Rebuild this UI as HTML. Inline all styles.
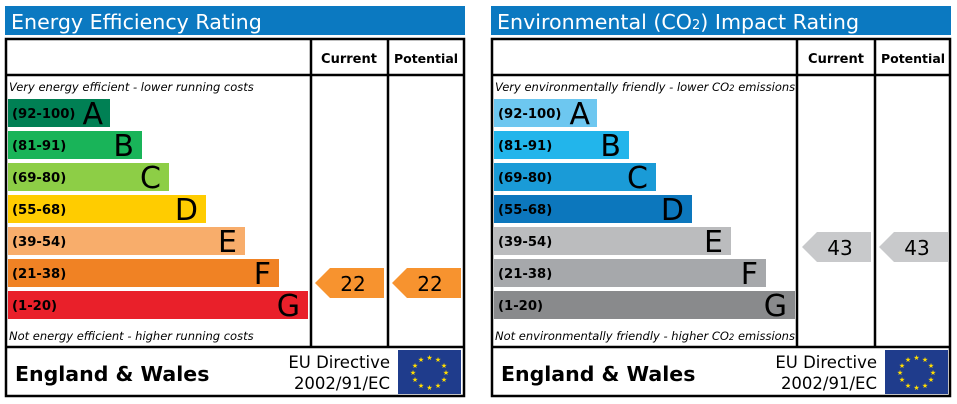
<!DOCTYPE html><html><head><style>body{margin:0;background:#fff}svg{display:block}text{font-family:"DejaVu Sans",Verdana,sans-serif}</style></head><body>
<svg width="957" height="404" xmlns="http://www.w3.org/2000/svg">
<g id="p1">
<rect x="5" y="6" width="460" height="29" fill="#0b79c1"/>
<text x="11" y="29" font-size="20.6" fill="#fff">Energy Efficiency Rating</text>
<rect x="6" y="39" width="458" height="357" fill="none" stroke="#000" stroke-width="2.5"/>
<line x1="6" y1="75" x2="464" y2="75" stroke="#000" stroke-width="2.5"/>
<line x1="6" y1="347" x2="464" y2="347" stroke="#000" stroke-width="2.5"/>
<line x1="311" y1="39" x2="311" y2="347" stroke="#000" stroke-width="2.5"/>
<line x1="388" y1="39" x2="388" y2="347" stroke="#000" stroke-width="2.5"/>
<text x="349" y="63" font-size="13" font-weight="bold" text-anchor="middle">Current</text>
<text x="426" y="63" font-size="12.5" font-weight="bold" text-anchor="middle">Potential</text>
<text x="9" y="91" font-size="11.5" font-style="italic">Very energy efficient - lower running costs</text>
<text x="9" y="340" font-size="11.5" font-style="italic">Not energy efficient - higher running costs</text>
<rect x="8" y="99" width="102" height="28" fill="#008054"/><text x="12" y="118" font-size="13.2" font-weight="bold">(92-100)</text><text x="103" y="124" font-size="30" text-anchor="end">A</text>
<rect x="8" y="131" width="134" height="28" fill="#19b459"/><text x="12" y="150" font-size="13.2" font-weight="bold">(81-91)</text><text x="134" y="156" font-size="30" text-anchor="end">B</text>
<rect x="8" y="163" width="161" height="28" fill="#8dce46"/><text x="12" y="182" font-size="13.2" font-weight="bold">(69-80)</text><text x="161" y="188" font-size="30" text-anchor="end">C</text>
<rect x="8" y="195" width="198" height="28" fill="#ffcc00"/><text x="12" y="214" font-size="13.2" font-weight="bold">(55-68)</text><text x="198" y="220" font-size="30" text-anchor="end">D</text>
<rect x="8" y="227" width="237" height="28" fill="#f8ad6b"/><text x="12" y="246" font-size="13.2" font-weight="bold">(39-54)</text><text x="237" y="252" font-size="30" text-anchor="end">E</text>
<rect x="8" y="259" width="271" height="28" fill="#f08224"/><text x="12" y="278" font-size="13.2" font-weight="bold">(21-38)</text><text x="271" y="284" font-size="30" text-anchor="end">F</text>
<rect x="8" y="291" width="300" height="28" fill="#e9202a"/><text x="12" y="310" font-size="13.2" font-weight="bold">(1-20)</text><text x="300" y="316" font-size="30" text-anchor="end">G</text>
<polygon points="315,283 330,268 384,268 384,298 330,298" fill="#f7932f"/><text x="353" y="291" font-size="20" text-anchor="middle">22</text>
<polygon points="392,283 407,268 461,268 461,298 407,298" fill="#f7932f"/><text x="430" y="291" font-size="20" text-anchor="middle">22</text>
<text x="15" y="381" font-size="20.5" font-weight="bold">England &amp; Wales</text>
<text x="390" y="368" font-size="16.5" text-anchor="end">EU Directive</text>
<text x="390" y="389" font-size="16.5" text-anchor="end">2002/91/EC</text>
<rect x="398" y="350" width="63" height="44" fill="#1f3c8c"/>
<g fill="#ffdd00" font-size="7" text-anchor="middle"><text x="429.5" y="360">★</text><text x="438" y="362">★</text><text x="444" y="368">★</text><text x="446" y="375">★</text><text x="444" y="382">★</text><text x="438" y="388">★</text><text x="429.5" y="390">★</text><text x="421" y="388">★</text><text x="415" y="382">★</text><text x="413" y="375">★</text><text x="415" y="368">★</text><text x="421" y="362">★</text></g>
</g>
<g>
<rect x="491" y="6" width="460" height="29" fill="#0b79c1"/>
<text x="497" y="29" font-size="20.6" fill="#fff">Environmental (CO<tspan font-size="13">2</tspan>) Impact Rating</text>
<rect x="492" y="39" width="458" height="357" fill="none" stroke="#000" stroke-width="2.5"/>
<line x1="492" y1="75" x2="950" y2="75" stroke="#000" stroke-width="2.5"/>
<line x1="492" y1="347" x2="950" y2="347" stroke="#000" stroke-width="2.5"/>
<line x1="797" y1="39" x2="797" y2="347" stroke="#000" stroke-width="2.5"/>
<line x1="875" y1="39" x2="875" y2="347" stroke="#000" stroke-width="2.5"/>
<text x="836" y="63" font-size="13" font-weight="bold" text-anchor="middle">Current</text>
<text x="913" y="63" font-size="12.5" font-weight="bold" text-anchor="middle">Potential</text>
<text x="495" y="91" font-size="11.5" font-style="italic">Very environmentally friendly - lower CO<tspan font-size="8.5">2</tspan> emissions</text>
<text x="495" y="340" font-size="11.5" font-style="italic">Not environmentally friendly - higher CO<tspan font-size="8.5">2</tspan> emissions</text>
<rect x="494" y="99" width="103" height="28" fill="#6dc7f0"/><text x="498" y="118" font-size="13.2" font-weight="bold">(92-100)</text><text x="590" y="124" font-size="30" text-anchor="end">A</text>
<rect x="494" y="131" width="135" height="28" fill="#22b5eb"/><text x="498" y="150" font-size="13.2" font-weight="bold">(81-91)</text><text x="621" y="156" font-size="30" text-anchor="end">B</text>
<rect x="494" y="163" width="162" height="28" fill="#1a9bd7"/><text x="498" y="182" font-size="13.2" font-weight="bold">(69-80)</text><text x="648" y="188" font-size="30" text-anchor="end">C</text>
<rect x="494" y="195" width="198" height="28" fill="#0c77bd"/><text x="498" y="214" font-size="13.2" font-weight="bold">(55-68)</text><text x="684" y="220" font-size="30" text-anchor="end">D</text>
<rect x="494" y="227" width="237" height="28" fill="#bbbcbe"/><text x="498" y="246" font-size="13.2" font-weight="bold">(39-54)</text><text x="723" y="252" font-size="30" text-anchor="end">E</text>
<rect x="494" y="259" width="272" height="28" fill="#a6a8ab"/><text x="498" y="278" font-size="13.2" font-weight="bold">(21-38)</text><text x="758" y="284" font-size="30" text-anchor="end">F</text>
<rect x="494" y="291" width="301" height="28" fill="#898a8c"/><text x="498" y="310" font-size="13.2" font-weight="bold">(1-20)</text><text x="787" y="316" font-size="30" text-anchor="end">G</text>
<polygon points="802,247 817,232 871,232 871,262 817,262" fill="#c8c9cb"/><text x="840" y="255" font-size="20" text-anchor="middle">43</text>
<polygon points="879,247 894,232 948,232 948,262 894,262" fill="#c8c9cb"/><text x="917" y="255" font-size="20" text-anchor="middle">43</text>
<text x="501" y="381" font-size="20.5" font-weight="bold">England &amp; Wales</text>
<text x="877" y="368" font-size="16.5" text-anchor="end">EU Directive</text>
<text x="877" y="389" font-size="16.5" text-anchor="end">2002/91/EC</text>
<rect x="885" y="350" width="63" height="44" fill="#1f3c8c"/>
<g fill="#ffdd00" font-size="7" text-anchor="middle"><text x="916.5" y="360">★</text><text x="925" y="362">★</text><text x="931" y="368">★</text><text x="933" y="375">★</text><text x="931" y="382">★</text><text x="925" y="388">★</text><text x="916.5" y="390">★</text><text x="908" y="388">★</text><text x="902" y="382">★</text><text x="900" y="375">★</text><text x="902" y="368">★</text><text x="908" y="362">★</text></g>
</g>
</svg></body></html>
